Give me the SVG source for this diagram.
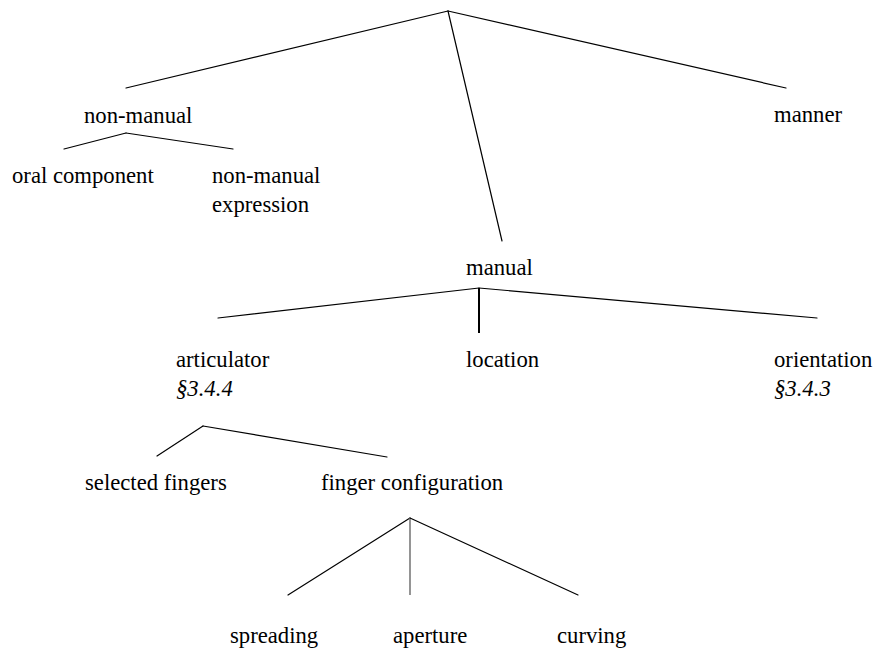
<svg xmlns="http://www.w3.org/2000/svg" width="877" height="651" viewBox="0 0 877 651">
  <style>
    .lbl { font-family: 'Liberation Serif', 'Times New Roman', Times, 'DejaVu Serif', serif; font-size: 22.7px; fill: #000; }
    .ref { font-style: italic; }
    .edge { stroke: #000; stroke-width: 1.2; fill: none; stroke-linecap: round; }
    .thick { stroke-width: 2; stroke-linecap: butt; }
    .grey { stroke: #7a7a7a; stroke-width: 1.6; stroke-linecap: butt; }
  </style>
  <rect width="877" height="651" fill="#fff"/>

  <!-- connectors of the feature tree -->
  <g id="connectors">
    <!-- root -->
    <line class="edge" x1="448" y1="11" x2="126" y2="88"/>
    <line class="edge" x1="448" y1="11" x2="502" y2="241"/>
    <line class="edge" x1="448" y1="11" x2="786" y2="88"/>
    <!-- non-manual -->
    <line class="edge" x1="126" y1="133" x2="64" y2="149"/>
    <line class="edge" x1="126" y1="133" x2="233" y2="149"/>
    <!-- manual -->
    <line class="edge" x1="479" y1="288" x2="218" y2="318"/>
    <line class="edge thick" x1="479" y1="288" x2="479" y2="333"/>
    <line class="edge" x1="479" y1="288" x2="817" y2="318"/>
    <!-- articulator -->
    <line class="edge" x1="203" y1="426" x2="157" y2="456"/>
    <line class="edge" x1="203" y1="426" x2="387" y2="457"/>
    <!-- finger configuration -->
    <line class="edge" x1="410" y1="518" x2="288" y2="595"/>
    <line class="edge grey" x1="410" y1="518" x2="410" y2="595"/>
    <line class="edge" x1="410" y1="518" x2="578" y2="595"/>
  </g>

  <g class="lbl" font-family="Liberation Serif, serif">
    <g id="non-manual"><text x="84" y="123">non-manual</text></g>
    <g id="manner"><text x="774" y="122">manner</text></g>
    <g id="oral-component"><text x="12" y="183">oral component</text></g>
    <g id="non-manual-expression">
      <text x="212" y="183">non-manual</text>
      <text x="212" y="212">expression</text>
    </g>
    <g id="manual"><text x="466" y="275">manual</text></g>
    <g id="articulator">
      <text x="176" y="367">articulator</text>
      <text class="ref" x="176" y="396">§3.4.4</text>
    </g>
    <g id="location"><text x="466" y="367">location</text></g>
    <g id="orientation">
      <text x="774" y="367">orientation</text>
      <text class="ref" x="774" y="396">§3.4.3</text>
    </g>
    <g id="selected-fingers"><text x="85" y="490">selected fingers</text></g>
    <g id="finger-configuration"><text x="321" y="490">finger configuration</text></g>
    <g id="spreading"><text x="230" y="643">spreading</text></g>
    <g id="aperture"><text x="393" y="643">aperture</text></g>
    <g id="curving"><text x="557" y="643">curving</text></g>
  </g>
</svg>
